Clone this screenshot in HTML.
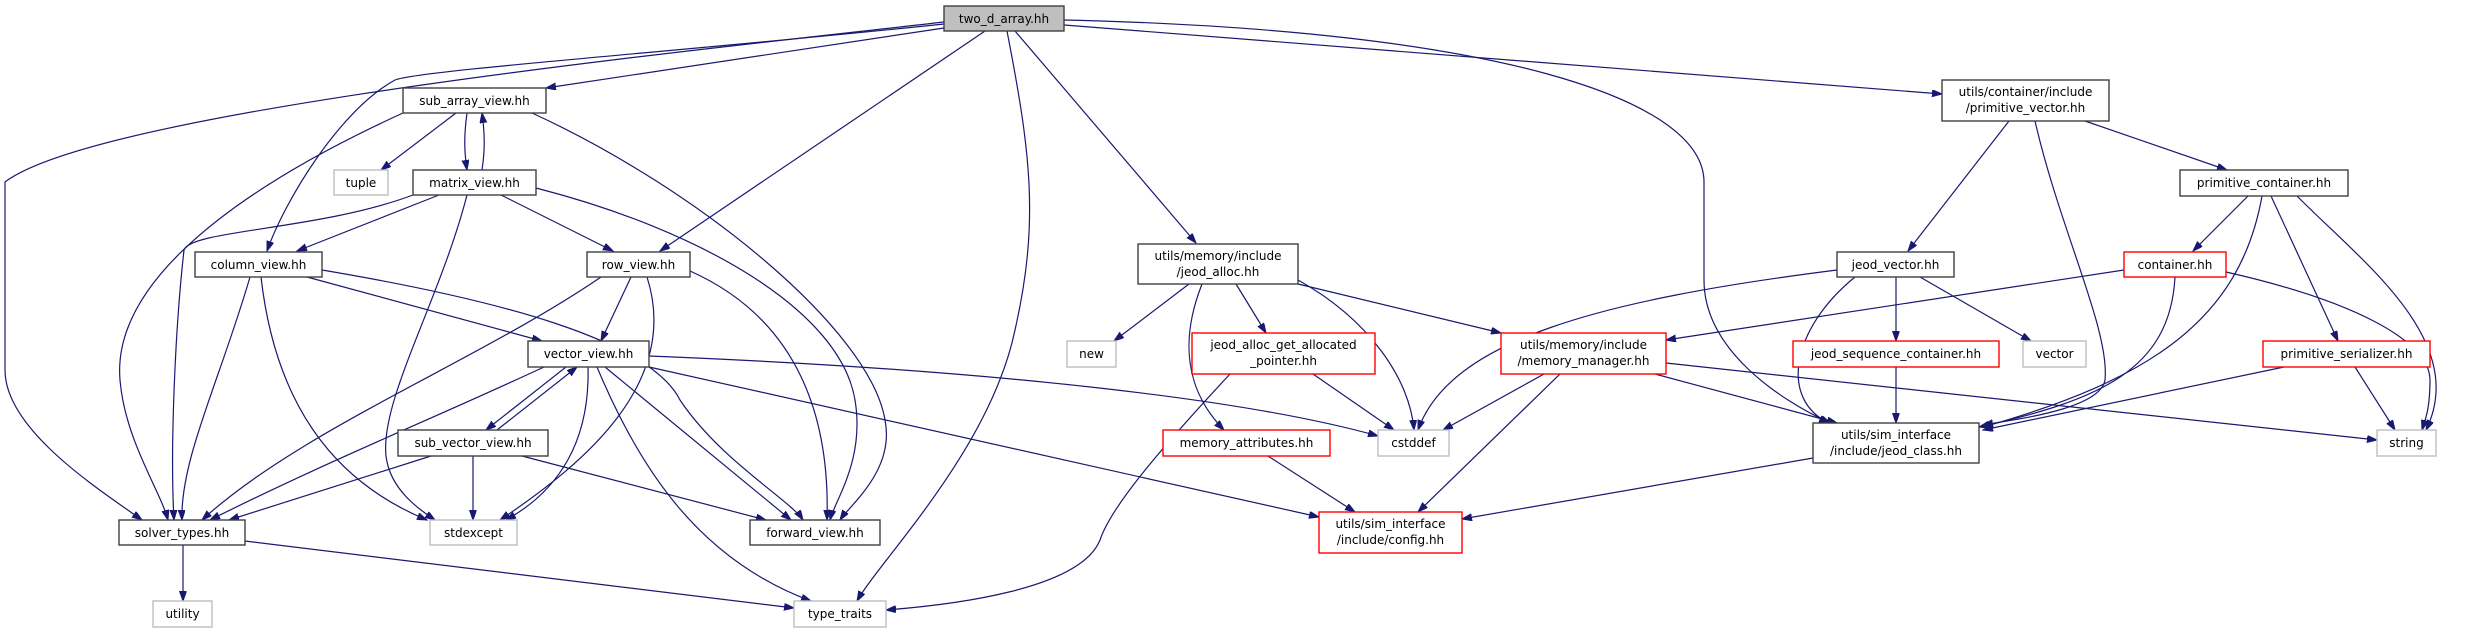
<!DOCTYPE html>
<html><head><meta charset="utf-8"><style>
html,body{margin:0;padding:0;background:#fff;width:2476px;height:633px;overflow:hidden}
svg{display:block}
text{font-family:"DejaVu Sans","Liberation Sans",sans-serif;font-size:12px;fill:#000;text-anchor:middle}
.e{fill:none;stroke:#191970;stroke-width:1.2;marker-end:url(#a)}
.n{fill:#fff;stroke:#404040;stroke-width:1.4}
.g{fill:#fff;stroke:#bfbfbf;stroke-width:1.4}
.r{fill:#fff;stroke:#ff0000;stroke-width:1.4}
</style></head><body>
<svg width="2476" height="633" viewBox="0 0 2476 633" xmlns="http://www.w3.org/2000/svg">
<defs><marker id="a" markerUnits="userSpaceOnUse" markerWidth="11" markerHeight="8" refX="10" refY="3.5" orient="auto"><path d="M0,0 L10,3.5 L0,7 z" fill="#191970" stroke="#191970"/></marker></defs>
<!-- edges -->
<path class="e" d="M944,22 C700,50 100,110 5,182 L5,370 C5,430 100,490 142,520"/>
<path class="e" d="M944,24 C700,50 420,70 395,80 C340,110 285,200 267,251"/>
<path class="e" d="M944,28 L546,88"/>
<path class="e" d="M985,31 L660,251"/>
<path class="e" d="M1007,31 C1030,150 1040,220 1015,330 C990,450 880,560 857,601"/>
<path class="e" d="M1015,31 L1196,243"/>
<path class="e" d="M1064,20 C1500,30 1704,100 1704,182 L1704,280 C1704,350 1780,400 1830,423"/>
<path class="e" d="M1064,25 L1942,94"/>
<path class="e" d="M403,113 C300,160 110,260 120,380 C125,440 160,490 168,520"/>
<path class="e" d="M456,113 L381,170"/>
<path class="e" d="M467,113 C464,135 464,150 467,170"/>
<path class="e" d="M482,170 C485,150 485,135 482,113"/>
<path class="e" d="M532,113 C700,190 870,330 885,420 C895,470 850,505 840,520"/>
<path class="e" d="M439,195 L297,251"/>
<path class="e" d="M501,195 L613,251"/>
<path class="e" d="M413,195 C320,230 190,230 184,250 C175,330 170,450 174,520"/>
<path class="e" d="M467,195 C440,300 380,400 386,456 C390,490 420,510 435,520"/>
<path class="e" d="M536,188 C700,230 840,310 855,400 C865,460 835,500 830,520"/>
<path class="e" d="M250,277 C220,380 180,460 182,520"/>
<path class="e" d="M261,277 C275,400 330,480 427,520"/>
<path class="e" d="M307,277 L542,341"/>
<path class="e" d="M322,270 C500,300 650,340 680,400 C720,460 790,500 803,520"/>
<path class="e" d="M601,277 C480,360 300,430 202,520"/>
<path class="e" d="M631,277 L601,341"/>
<path class="e" d="M647,277 C680,380 590,460 500,520"/>
<path class="e" d="M690,271 C800,320 830,420 827,520"/>
<path class="e" d="M544,367 C430,420 330,460 210,520"/>
<path class="e" d="M566,367 L486,430"/>
<path class="e" d="M497,430 L577,367"/>
<path class="e" d="M588,367 C590,440 560,490 506,520"/>
<path class="e" d="M605,367 L791,520"/>
<path class="e" d="M597,367 C640,470 700,560 811,601"/>
<path class="e" d="M649,356 C1000,370 1250,400 1378,436"/>
<path class="e" d="M649,367 L1319,517"/>
<path class="e" d="M431,456 L229,520"/>
<path class="e" d="M473,456 L473,520"/>
<path class="e" d="M522,456 L766,520"/>
<path class="e" d="M183,545 L183,601"/>
<path class="e" d="M245,541 L794,608"/>
<path class="e" d="M1189,284 L1114,341"/>
<path class="e" d="M1202,284 C1180,340 1185,390 1224,430"/>
<path class="e" d="M1236,284 L1266,333"/>
<path class="e" d="M1298,280 C1370,320 1410,380 1414,430"/>
<path class="e" d="M1298,284 L1501,333"/>
<path class="e" d="M1313,374 L1394,430"/>
<path class="e" d="M1230,374 C1150,460 1110,510 1100,540 C1080,590 950,605 886,610"/>
<path class="e" d="M1268,456 L1355,512"/>
<path class="e" d="M1544,374 L1443,430"/>
<path class="e" d="M1560,374 L1418,512"/>
<path class="e" d="M1655,374 L1837,423"/>
<path class="e" d="M1666,363 L2377,440"/>
<path class="e" d="M1813,458 L1462,519"/>
<path class="e" d="M2009,121 L1908,251"/>
<path class="e" d="M2035,121 C2060,230 2110,330 2105,380 C2100,410 2010,420 1983,425"/>
<path class="e" d="M2085,121 L2227,170"/>
<path class="e" d="M2248,196 L2193,251"/>
<path class="e" d="M2262,196 C2240,320 2150,380 1983,427"/>
<path class="e" d="M2271,196 L2338,341"/>
<path class="e" d="M2297,196 C2360,260 2470,340 2426,430"/>
<path class="e" d="M1837,270 C1600,300 1450,340 1418,430"/>
<path class="e" d="M1855,277 C1790,330 1780,400 1829,423"/>
<path class="e" d="M1896,277 L1896,341"/>
<path class="e" d="M1920,277 L2031,341"/>
<path class="e" d="M2124,270 L1666,340"/>
<path class="e" d="M2175,277 C2170,370 2100,400 1979,427"/>
<path class="e" d="M2226,272 C2350,300 2430,340 2430,380 C2430,410 2425,420 2422,430"/>
<path class="e" d="M1896,367 L1896,423"/>
<path class="e" d="M2284,367 L1983,430"/>
<path class="e" d="M2355,367 L2395,430"/>
<!-- nodes -->
<rect x="944" y="6" width="120" height="25" fill="#bfbfbf" stroke="#404040" stroke-width="1.4"/><text x="1004" y="23">two_d_array.hh</text>
<rect class="n" x="403" y="88" width="143" height="25"/><text x="474.5" y="105">sub_array_view.hh</text>
<rect class="g" x="334" y="170" width="54" height="25"/><text x="361" y="187">tuple</text>
<rect class="n" x="413" y="170" width="123" height="25"/><text x="474.5" y="187">matrix_view.hh</text>
<rect class="n" x="195" y="252" width="127" height="25"/><text x="258.5" y="269">column_view.hh</text>
<rect class="n" x="587" y="252" width="103" height="25"/><text x="638.5" y="269">row_view.hh</text>
<rect class="n" x="528" y="341" width="121" height="26"/><text x="588.5" y="358">vector_view.hh</text>
<rect class="n" x="398" y="430" width="150" height="26"/><text x="473" y="447">sub_vector_view.hh</text>
<rect class="n" x="119" y="520" width="126" height="25"/><text x="182" y="537">solver_types.hh</text>
<rect class="g" x="430" y="520" width="87" height="25"/><text x="473.5" y="537">stdexcept</text>
<rect class="n" x="750" y="520" width="130" height="25"/><text x="815" y="537">forward_view.hh</text>
<rect class="g" x="153" y="601" width="59" height="26"/><text x="182.5" y="618">utility</text>
<rect class="g" x="794" y="601" width="92" height="26"/><text x="840" y="618">type_traits</text>
<rect class="g" x="1067" y="341" width="49" height="26"/><text x="1091.5" y="358">new</text>
<rect class="n" x="1138" y="244" width="160" height="40"/><text x="1218" y="260">utils/memory/include</text><text x="1218" y="276">/jeod_alloc.hh</text>
<rect class="r" x="1192" y="333" width="183" height="41"/><text x="1283.5" y="349">jeod_alloc_get_allocated</text><text x="1283.5" y="365">_pointer.hh</text>
<rect class="r" x="1163" y="430" width="167" height="26"/><text x="1246.5" y="447">memory_attributes.hh</text>
<rect class="n" x="1942" y="80" width="167" height="41"/><text x="2025.5" y="96">utils/container/include</text><text x="2025.5" y="112">/primitive_vector.hh</text>
<rect class="n" x="2180" y="170" width="168" height="26"/><text x="2264" y="187">primitive_container.hh</text>
<rect class="n" x="1837" y="252" width="117" height="25"/><text x="1895.5" y="269">jeod_vector.hh</text>
<rect class="r" x="2124" y="252" width="102" height="25"/><text x="2175" y="269">container.hh</text>
<rect class="r" x="1501" y="333" width="165" height="41"/><text x="1583.5" y="349">utils/memory/include</text><text x="1583.5" y="365">/memory_manager.hh</text>
<rect class="r" x="1793" y="341" width="206" height="26"/><text x="1896" y="358">jeod_sequence_container.hh</text>
<rect class="g" x="2023" y="341" width="63" height="26"/><text x="2054.5" y="358">vector</text>
<rect class="r" x="2263" y="341" width="167" height="26"/><text x="2346.5" y="358">primitive_serializer.hh</text>
<rect class="g" x="1378" y="430" width="71" height="26"/><text x="1413.5" y="447">cstddef</text>
<rect class="n" x="1813" y="423" width="166" height="40"/><text x="1896" y="439">utils/sim_interface</text><text x="1896" y="455">/include/jeod_class.hh</text>
<rect class="g" x="2377" y="430" width="59" height="26"/><text x="2406.5" y="447">string</text>
<rect class="r" x="1319" y="512" width="143" height="41"/><text x="1390.5" y="528">utils/sim_interface</text><text x="1390.5" y="544">/include/config.hh</text>
</svg>
</body></html>
